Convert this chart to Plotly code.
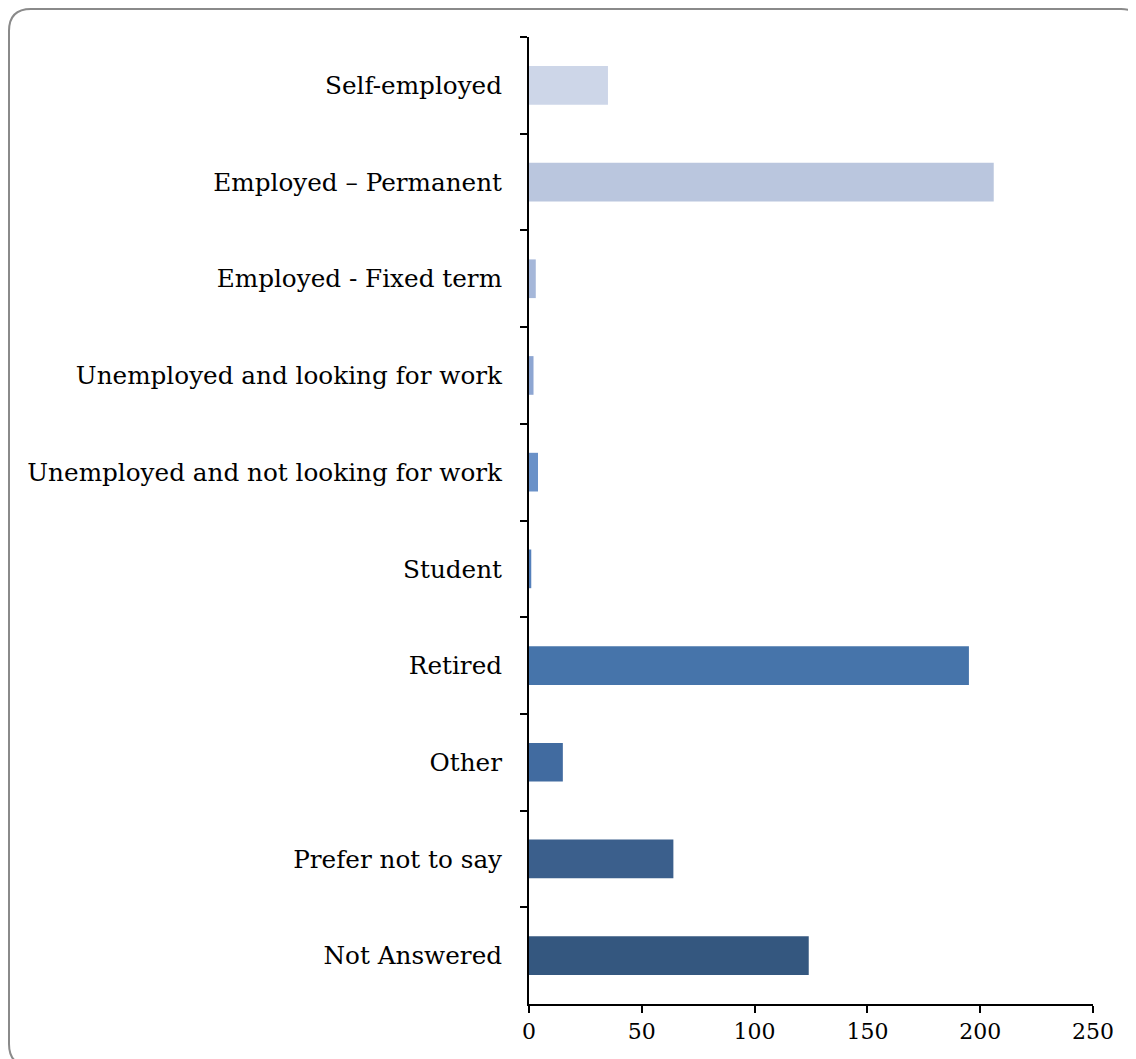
import plotly.graph_objects as go

categories = [
    "Self-employed",
    "Employed \u2013 Permanent",
    "Employed - Fixed term",
    "Unemployed and looking for work",
    "Unemployed and not looking for work",
    "Student",
    "Retired",
    "Other",
    "Prefer not to say",
    "Not Answered",
]
values = [35, 206, 3, 2, 4, 1, 195, 15, 64, 124]
bar_colors = ["#cdd6e8", "#bac6de", "#a5b7d9", "#8ea6d2", "#6a91c8",
              "#5580bb", "#4674aa", "#416ba0", "#3b5f8c", "#34577f"]
x_ticks = [0, 50, 100, 150, 200, 250]

W, H = 1136, 1059
L, R, T, B = 521, 51, 29, 63
pw, ph = W - L - R, H - T - B

def px(x):
    return (x - L) / pw

def py(y):
    return (H - B - y) / ph

fig = go.Figure(go.Bar(
    x=values, y=categories, orientation="h",
    marker=dict(color=bar_colors, line=dict(width=0)),
    hoverinfo="x+y",
))

# rounded frame around the whole chart
x0, y0, x1, y1, r = 1, 1, 1135, 1058, 22
path = (f"M {px(x0+r)},{py(y0)} L {px(x1-r)},{py(y0)} "
        f"Q {px(x1)},{py(y0)} {px(x1)},{py(y0+r)} "
        f"L {px(x1)},{py(y1-r)} Q {px(x1)},{py(y1)} {px(x1-r)},{py(y1)} "
        f"L {px(x0+r)},{py(y1)} Q {px(x0)},{py(y1)} {px(x0)},{py(y1-r)} "
        f"L {px(x0)},{py(y0+r)} Q {px(x0)},{py(y0)} {px(x0+r)},{py(y0)} Z")
fig.add_shape(type="path", path=path, xref="paper", yref="paper",
              line=dict(color="#8a8a8a", width=2), layer="below")

font_family = "DejaVu Serif, Liberation Serif, serif"
fig.update_layout(
    width=W, height=H,
    margin=dict(l=L, r=R, t=T, b=B, pad=0),
    paper_bgcolor="white", plot_bgcolor="white",
    bargap=0.6,
    showlegend=False,
    font=dict(family=font_family, size=24.7, color="black"),
    xaxis=dict(
        range=[0, 250], tickvals=x_ticks, ticktext=[str(v) for v in x_ticks],
        showgrid=False, zeroline=False,
        showline=True, linecolor="black", linewidth=2,
        ticks="outside", ticklen=7, tickwidth=2, tickcolor="black",
        tickfont=dict(size=22, family=font_family),
        fixedrange=True,
    ),
    yaxis=dict(
        type="category", categoryorder="array", categoryarray=categories,
        autorange="reversed",
        tickson="boundaries",
        showgrid=False, zeroline=False,
        showline=True, linecolor="black", linewidth=2,
        ticks="outside", ticklen=7, tickwidth=2, tickcolor="black",
        ticklabelstandoff=20,
        tickfont=dict(size=24.7, family=font_family),
        fixedrange=True,
    ),
)

fig.write_html("out.html")
